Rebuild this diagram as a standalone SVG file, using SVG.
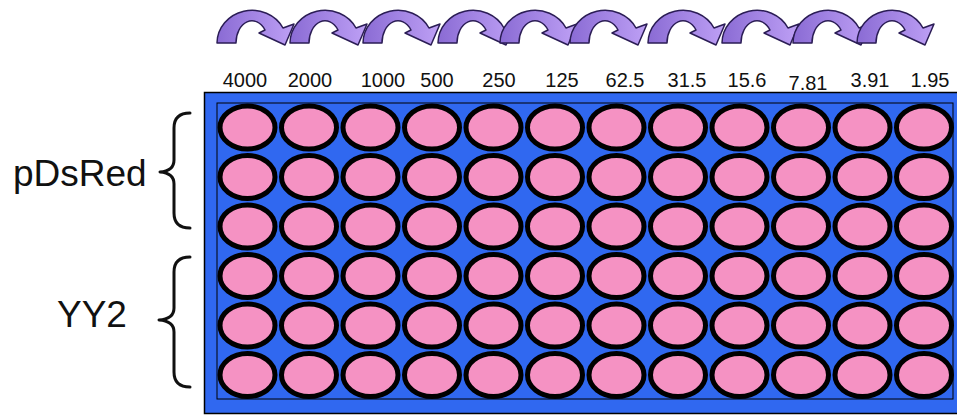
<svg xmlns="http://www.w3.org/2000/svg" xmlns:xlink="http://www.w3.org/1999/xlink" width="957" height="415" viewBox="0 0 957 415">
<style>
.num{font-family:"Liberation Sans",Arial,sans-serif;font-size:20px;fill:#111;text-anchor:middle}
.lbl{font-family:"Liberation Sans",Arial,sans-serif;font-size:37px;fill:#111}
.brace{fill:none;stroke:#111;stroke-width:3;stroke-linecap:round;stroke-linejoin:round}
.well{fill:#f592c3;stroke:#000;stroke-width:5}
.arr{fill:url(#ag);stroke:#2b1d55;stroke-width:1.5;stroke-linejoin:round}
</style>
<defs>
<linearGradient id="ag" x1="0" y1="0" x2="1" y2="0">
<stop offset="0" stop-color="#8a6bd4"/>
<stop offset="1" stop-color="#bea0f5"/>
</linearGradient>
<ellipse id="w" class="well" cx="0" cy="0" rx="27.5" ry="21.5"/>
<path id="arrow" class="arr" d="M0,43 A35,33 0 0 1 66,28 L77,24 L68,45 L42,33 L48,30 A16,22 0 0 0 19,43 Z"/>
</defs>
<rect width="957" height="415" fill="#fff"/>

<g id="connectors">
<use xlink:href="#arrow" x="217" y="0"/>
<use xlink:href="#arrow" x="290" y="0"/>
<use xlink:href="#arrow" x="363" y="0"/>
<use xlink:href="#arrow" x="438" y="0"/>
<use xlink:href="#arrow" x="500" y="0"/>
<use xlink:href="#arrow" x="570" y="0"/>
<use xlink:href="#arrow" x="648" y="0"/>
<use xlink:href="#arrow" x="722" y="0"/>
<use xlink:href="#arrow" x="793" y="0"/>
<use xlink:href="#arrow" x="857" y="0"/>
</g>

<g id="concentrations">
<text class="num" x="245" y="87">4000</text>
<text class="num" x="310" y="87">2000</text>
<text class="num" x="383" y="87">1000</text>
<text class="num" x="437" y="87">500</text>
<text class="num" x="499" y="87">250</text>
<text class="num" x="562" y="87">125</text>
<text class="num" x="625" y="87">62.5</text>
<text class="num" x="687" y="87">31.5</text>
<text class="num" x="747" y="87">15.6</text>
<text class="num" x="808" y="90">7.81</text>
<text class="num" x="870" y="87">3.91</text>
<text class="num" x="930" y="87">1.95</text>
</g>

<g id="label-pDsRed">
<text class="lbl" x="13" y="186">pDsRed</text>
<path class="brace" d="M190,113 Q174,113 174,128 L174,160 Q174,171 160,172 Q174,173 174,184 L174,213 Q174,228 190,228"/>
</g>
<g id="label-YY2">
<text class="lbl" x="57" y="327">YY2</text>
<path class="brace" d="M190,257 Q174,257 174,272 L174,308 Q174,319 159,320 Q174,321 174,332 L174,372 Q174,387 190,387"/>
</g>

<g id="plate">
<rect x="204.5" y="92.5" width="760" height="321" fill="#3068f0" stroke="#000" stroke-width="1.5"/>
<rect x="217" y="103" width="736" height="296" fill="#3068f0" stroke="#000" stroke-width="1"/>
</g>

<g id="row-1">
<use xlink:href="#w" x="247.5" y="127.5"/><use xlink:href="#w" x="309" y="127.5"/><use xlink:href="#w" x="370.5" y="127.5"/><use xlink:href="#w" x="432" y="127.5"/><use xlink:href="#w" x="493.5" y="127.5"/><use xlink:href="#w" x="555" y="127.5"/><use xlink:href="#w" x="616.5" y="127.5"/><use xlink:href="#w" x="678" y="127.5"/><use xlink:href="#w" x="739.5" y="127.5"/><use xlink:href="#w" x="801" y="127.5"/><use xlink:href="#w" x="862.5" y="127.5"/><use xlink:href="#w" x="924" y="127.5"/>
</g>
<g id="row-2">
<use xlink:href="#w" x="247.5" y="177"/><use xlink:href="#w" x="309" y="177"/><use xlink:href="#w" x="370.5" y="177"/><use xlink:href="#w" x="432" y="177"/><use xlink:href="#w" x="493.5" y="177"/><use xlink:href="#w" x="555" y="177"/><use xlink:href="#w" x="616.5" y="177"/><use xlink:href="#w" x="678" y="177"/><use xlink:href="#w" x="739.5" y="177"/><use xlink:href="#w" x="801" y="177"/><use xlink:href="#w" x="862.5" y="177"/><use xlink:href="#w" x="924" y="177"/>
</g>
<g id="row-3">
<use xlink:href="#w" x="247.5" y="226.5"/><use xlink:href="#w" x="309" y="226.5"/><use xlink:href="#w" x="370.5" y="226.5"/><use xlink:href="#w" x="432" y="226.5"/><use xlink:href="#w" x="493.5" y="226.5"/><use xlink:href="#w" x="555" y="226.5"/><use xlink:href="#w" x="616.5" y="226.5"/><use xlink:href="#w" x="678" y="226.5"/><use xlink:href="#w" x="739.5" y="226.5"/><use xlink:href="#w" x="801" y="226.5"/><use xlink:href="#w" x="862.5" y="226.5"/><use xlink:href="#w" x="924" y="226.5"/>
</g>
<g id="row-4">
<use xlink:href="#w" x="247.5" y="276"/><use xlink:href="#w" x="309" y="276"/><use xlink:href="#w" x="370.5" y="276"/><use xlink:href="#w" x="432" y="276"/><use xlink:href="#w" x="493.5" y="276"/><use xlink:href="#w" x="555" y="276"/><use xlink:href="#w" x="616.5" y="276"/><use xlink:href="#w" x="678" y="276"/><use xlink:href="#w" x="739.5" y="276"/><use xlink:href="#w" x="801" y="276"/><use xlink:href="#w" x="862.5" y="276"/><use xlink:href="#w" x="924" y="276"/>
</g>
<g id="row-5">
<use xlink:href="#w" x="247.5" y="325.5"/><use xlink:href="#w" x="309" y="325.5"/><use xlink:href="#w" x="370.5" y="325.5"/><use xlink:href="#w" x="432" y="325.5"/><use xlink:href="#w" x="493.5" y="325.5"/><use xlink:href="#w" x="555" y="325.5"/><use xlink:href="#w" x="616.5" y="325.5"/><use xlink:href="#w" x="678" y="325.5"/><use xlink:href="#w" x="739.5" y="325.5"/><use xlink:href="#w" x="801" y="325.5"/><use xlink:href="#w" x="862.5" y="325.5"/><use xlink:href="#w" x="924" y="325.5"/>
</g>
<g id="row-6">
<use xlink:href="#w" x="247.5" y="375"/><use xlink:href="#w" x="309" y="375"/><use xlink:href="#w" x="370.5" y="375"/><use xlink:href="#w" x="432" y="375"/><use xlink:href="#w" x="493.5" y="375"/><use xlink:href="#w" x="555" y="375"/><use xlink:href="#w" x="616.5" y="375"/><use xlink:href="#w" x="678" y="375"/><use xlink:href="#w" x="739.5" y="375"/><use xlink:href="#w" x="801" y="375"/><use xlink:href="#w" x="862.5" y="375"/><use xlink:href="#w" x="924" y="375"/>
</g>
</svg>
